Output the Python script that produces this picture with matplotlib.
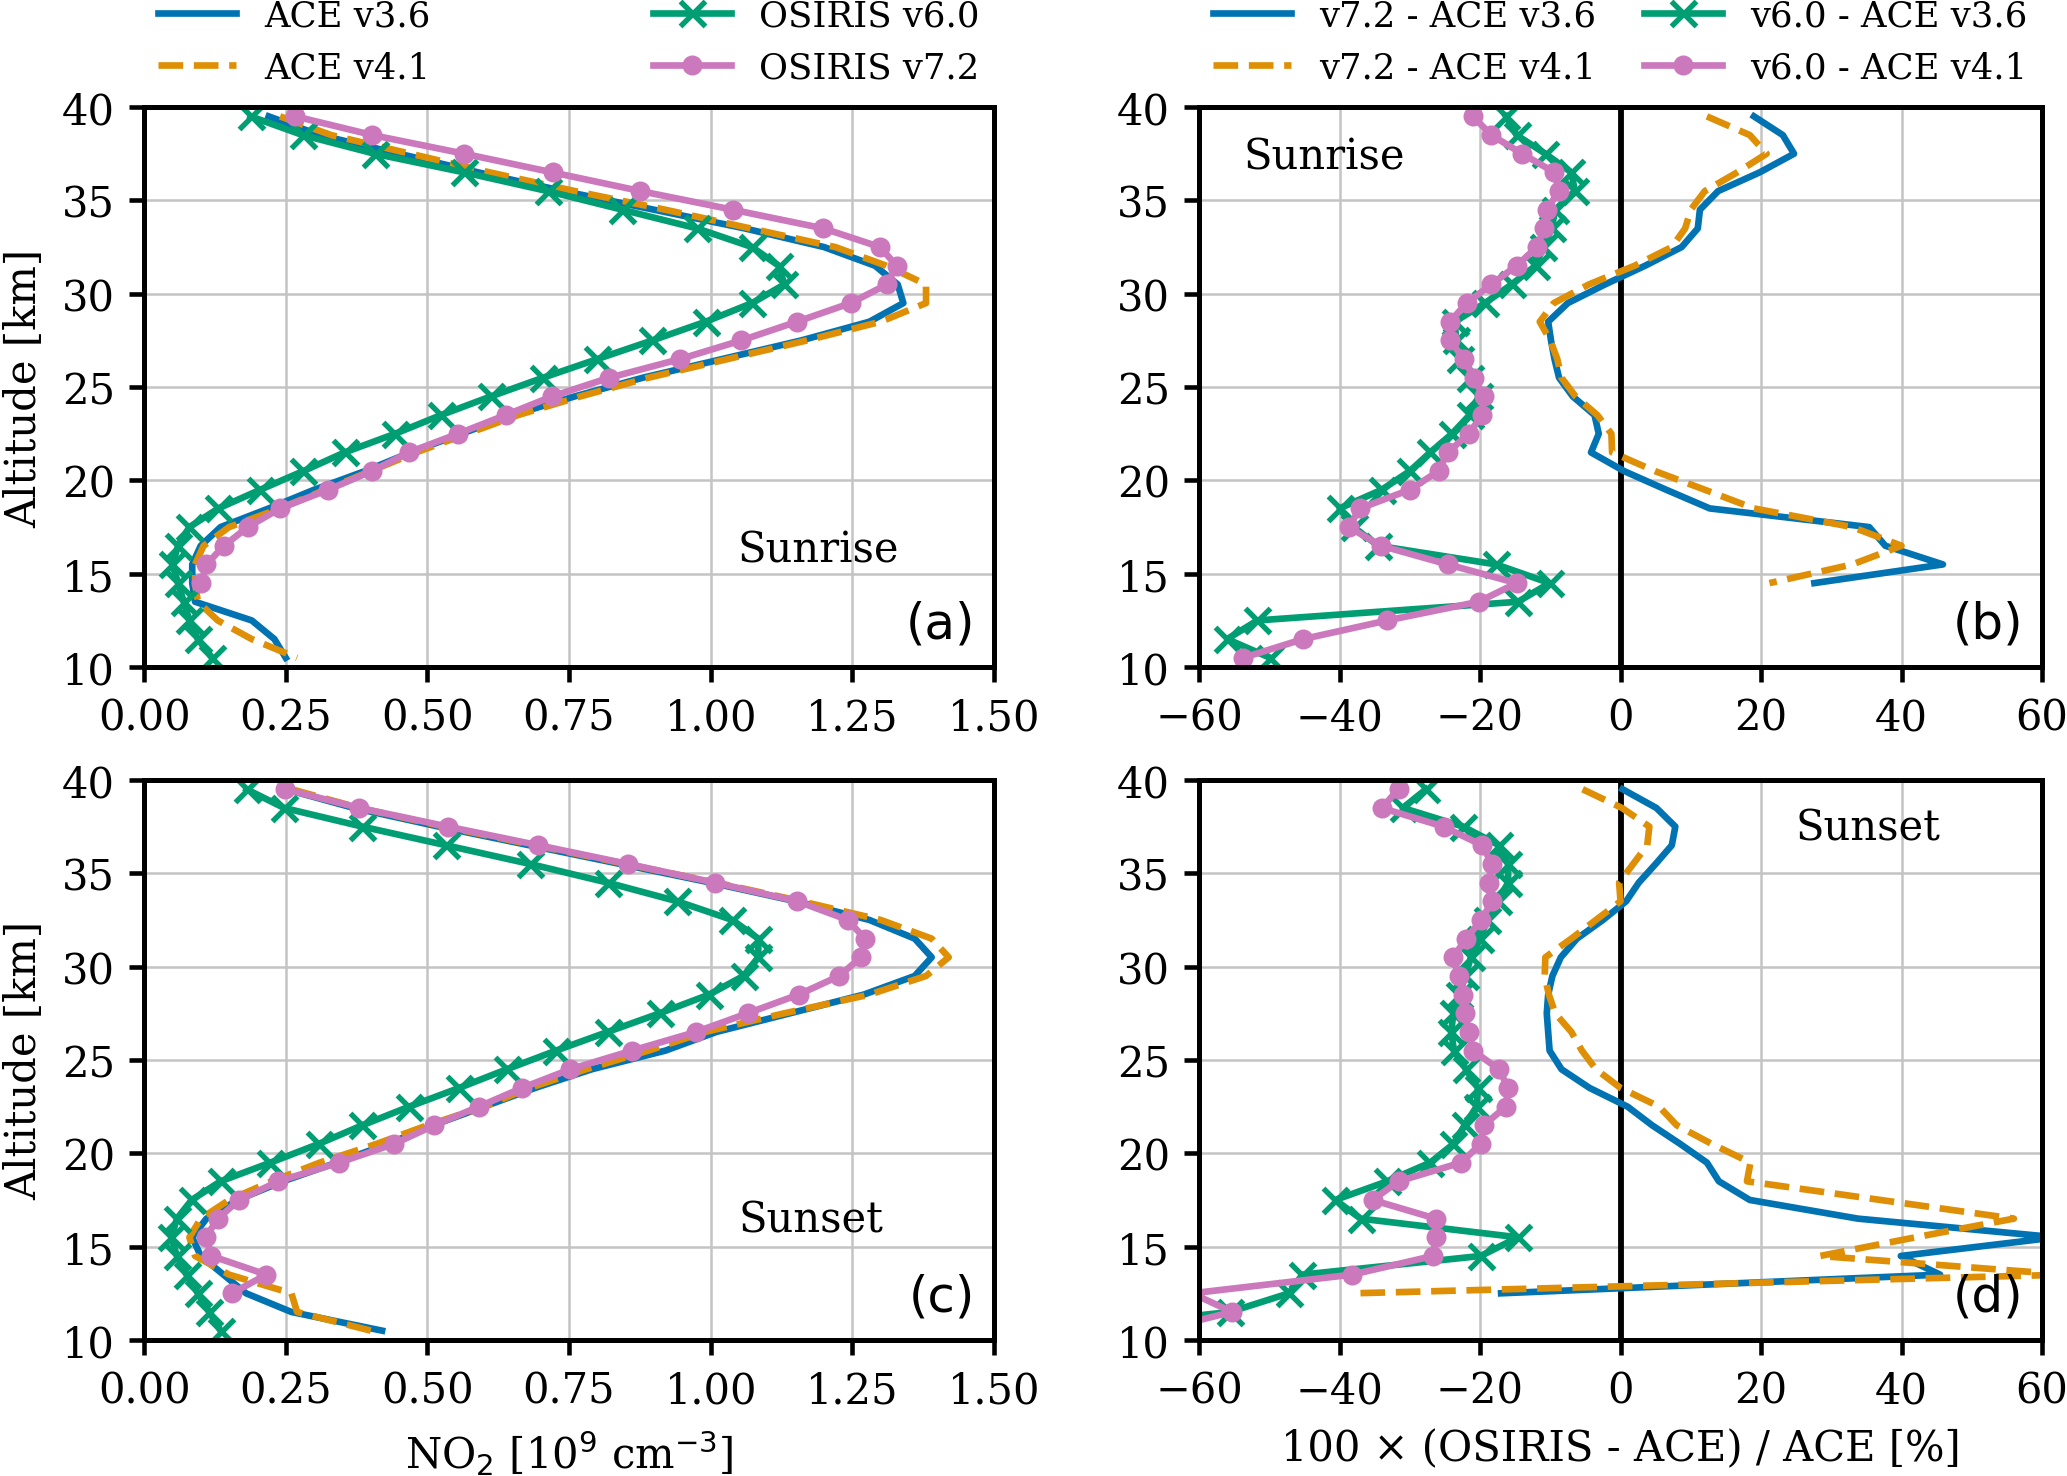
import matplotlib
matplotlib.use("Agg")
import matplotlib.pyplot as plt

# altitude grid [km]
alt = [39.5, 38.5, 37.5, 36.5, 35.5, 34.5, 33.5, 32.5, 31.5, 30.5,
       29.5, 28.5, 27.5, 26.5, 25.5, 24.5, 23.5, 22.5, 21.5, 20.5,
       19.5, 18.5, 17.5, 16.5, 15.5, 14.5, 13.5, 12.5, 11.5, 10.5]

# NO2 number density [1e9 cm^-3], sunrise
ace36_sr = [0.22, 0.31, 0.45, 0.59, 0.74, 0.90, 1.06, 1.20, 1.29, 1.33,
            1.34, 1.28, 1.16, 1.02, 0.88, 0.76, 0.65, 0.56, 0.47, 0.39,
            0.30, 0.22, 0.135, 0.10, 0.085, 0.085, 0.09, 0.19, 0.23, 0.25]
ace41_sr = [0.24, 0.33, 0.47, 0.61, 0.76, 0.92, 1.07, 1.22, 1.31, 1.38,
            1.38, 1.30, 1.17, 1.03, 0.89, 0.77, 0.66, 0.57, 0.48, 0.40,
            0.32, 0.24, 0.15, 0.105, 0.09, 0.09, 0.095, 0.13, 0.19, 0.27]
osi60_sr = [0.188, 0.280, 0.407, 0.565, 0.712, 0.844, 0.976, 1.073, 1.12, 1.13,
            1.073, 0.991, 0.897, 0.800, 0.704, 0.612, 0.524, 0.443, 0.354, 0.281,
            0.205, 0.131, 0.08, 0.06, 0.05, 0.06, 0.07, 0.08, 0.095, 0.12]
osi72_sr = [0.267, 0.403, 0.565, 0.721, 0.876, 1.039, 1.199, 1.299, 1.328, 1.311,
            1.247, 1.152, 1.054, 0.946, 0.821, 0.720, 0.638, 0.554, 0.467, 0.402,
            0.325, 0.240, 0.183, 0.141, 0.110, 0.101]

# sunset
ace36_ss = [0.25, 0.37, 0.52, 0.68, 0.84, 1.00, 1.15, 1.28, 1.36, 1.39,
            1.36, 1.27, 1.14, 1.01, 0.92, 0.79, 0.69, 0.60, 0.51, 0.43,
            0.34, 0.245, 0.165, 0.11, 0.085, 0.10, 0.14, 0.18, 0.26, 0.42]
ace41_ss = [0.26, 0.38, 0.53, 0.69, 0.85, 1.01, 1.16, 1.30, 1.39, 1.42,
            1.38, 1.28, 1.13, 0.99, 0.89, 0.78, 0.68, 0.60, 0.50, 0.41,
            0.31, 0.225, 0.15, 0.10, 0.08, 0.09, 0.15, 0.26, 0.27, 0.40]
osi60_ss = [0.181, 0.247, 0.385, 0.533, 0.681, 0.818, 0.941, 1.038, 1.084, 1.084,
            1.058, 0.997, 0.910, 0.818, 0.727, 0.640, 0.556, 0.468, 0.385, 0.308,
            0.223, 0.135, 0.084, 0.058, 0.048, 0.058, 0.075, 0.095, 0.115, 0.135]
osi72_ss = [0.249, 0.380, 0.536, 0.696, 0.854, 1.007, 1.153, 1.242, 1.272, 1.265,
            1.227, 1.155, 1.065, 0.974, 0.861, 0.752, 0.667, 0.591, 0.512, 0.441,
            0.344, 0.237, 0.168, 0.130, 0.109, 0.119, 0.216, 0.155]

# percent differences, sunrise
d72_36_sr = [19.0, 23.1, 24.7, 19.8, 13.9, 11.3, 11.0, 8.7, 3.5, -2.2,
             -7.5, -10.3, -9.9, -9.4, -8.75, -6.8, -3.7, -3.1, -4.2, 0.5,
             6.5, 12.7, 35.4, 37.7, 45.9, 27.6]
d72_41_sr = [12.3, 18.4, 20.8, 16.6, 12.0, 10.0, 9.2, 7.3, 2.0, -4.5,
             -9.5, -11.5, -10.0, -9.0, -8.4, -6.4, -3.3, -1.3, -1.2, 4.9,
             12.0, 19.0, 33.0, 40.0, 33.0, 21.2]
d60_36_sr = [-16.3, -14.8, -10.7, -7.0, -6.5, -9.3, -9.8, -11.0, -12.1, -15.5,
             -19.3, -23.6, -23.4, -22.8, -21.5, -20.2, -21.5, -24.0, -27.1, -30.0,
             -34.0, -40.0, -38.0, -34.5, -17.7, -10.1, -14.6, -51.7, -56.0, -49.9]
d60_41_sr = [-21.0, -18.4, -14.0, -9.4, -8.75, -10.5, -10.9, -11.9, -14.8, -18.4,
             -21.9, -24.3, -24.3, -22.3, -20.9, -19.5, -19.7, -21.6, -24.6, -25.9,
             -30.0, -37.1, -38.7, -34.1, -24.6, -14.8, -20.2, -33.2, -45.2, -53.7]

# percent differences, sunset
d72_36_ss = [0.3, 5.1, 7.8, 7.3, 5.0, 2.6, 0.8, -2.5, -6.2, -8.5,
             -9.7, -10.3, -10.5, -10.3, -10.1, -8.4, -4.4, 1.0, 4.5, 8.5,
             12.3, 14.0, 18.4, 33.8, 62.0, 39.9, 45.5, -17.0]
d72_41_ss = [-5.4, 0.2, 4.1, 3.8, 1.8, -0.2, 0.0, -3.5, -7.0, -10.7,
             -10.8, -10.2, -9.3, -7.0, -5.5, -3.5, 0.0, 5.5, 8.0, 13.0,
             18.5, 18.0, 37.0, 56.0, 42.0, 28.4, 63.5, -38.0]
d60_36_ss = [-27.7, -31.0, -22.4, -17.3, -16.0, -16.0, -17.5, -19.0, -20.0, -21.3,
             -22.1, -23.0, -23.8, -24.1, -23.7, -22.0, -20.3, -20.5, -22.2, -23.8,
             -27.1, -33.2, -40.6, -37.0, -14.6, -19.9, -45.3, -47.2, -55.6, -80.0]
d60_41_ss = [-31.6, -34.0, -25.2, -19.7, -18.3, -18.7, -18.3, -19.8, -22.0, -23.8,
             -23.0, -22.4, -22.2, -21.6, -21.0, -17.3, -16.0, -16.3, -19.5, -19.9,
             -22.7, -31.6, -35.3, -26.3, -26.3, -26.7, -38.2, -61.0, -55.3, -66.0]

plt.rcParams['font.family'] = 'DejaVu Serif'
plt.rcParams['font.size'] = 10
plt.rcParams['axes.linewidth'] = 1.2
plt.rcParams['xtick.major.width'] = 1.1
plt.rcParams['ytick.major.width'] = 1.1

blue = '#0173b2'
orange = '#de8f05'
green = '#029e73'
pink = '#cc78bc'
lw = 1.6

fig = plt.figure(figsize=(6.89, 4.923), dpi=300)
ax_a = fig.add_axes([0.0697, 0.5477, 0.4112, 0.3792])
ax_b = fig.add_axes([0.5801, 0.5477, 0.4078, 0.3792])
ax_c = fig.add_axes([0.0697, 0.0921, 0.4112, 0.3792])
ax_d = fig.add_axes([0.5801, 0.0921, 0.4078, 0.3792])


def draw_profiles(ax, a36, a41, o60, o72):
    ax.plot(a36, alt[:len(a36)], color=blue, lw=lw, label='ACE v3.6')
    ax.plot(a41, alt[:len(a41)], color=orange, lw=lw, ls='--', label='ACE v4.1')
    ax.plot(o60, alt[:len(o60)], color=green, lw=lw, marker='x', ms=6, mew=1.3,
            label='OSIRIS v6.0')
    ax.plot(o72, alt[:len(o72)], color=pink, lw=lw, marker='o', ms=3.8,
            label='OSIRIS v7.2')
    ax.set_xlim(0, 1.5)
    ax.set_xticks([0, 0.25, 0.5, 0.75, 1.0, 1.25, 1.5])
    ax.set_xticklabels(['0.00', '0.25', '0.50', '0.75', '1.00', '1.25', '1.50'])


def draw_diffs(ax, b36, b41, g36, p41):
    ax.axvline(0, color='k', lw=1.4, zorder=1.5)
    ax.plot(b36, alt[:len(b36)], color=blue, lw=lw, label='v7.2 - ACE v3.6')
    ax.plot(b41, alt[:len(b41)], color=orange, lw=lw, ls='--', label='v7.2 - ACE v4.1')
    ax.plot(g36, alt[:len(g36)], color=green, lw=lw, marker='x', ms=6, mew=1.3,
            label='v6.0 - ACE v3.6')
    ax.plot(p41, alt[:len(p41)], color=pink, lw=lw, marker='o', ms=3.8,
            label='v6.0 - ACE v4.1')
    ax.set_xlim(-60, 60)
    ax.set_xticks([-60, -40, -20, 0, 20, 40, 60])


draw_profiles(ax_a, ace36_sr, ace41_sr, osi60_sr, osi72_sr)
draw_profiles(ax_c, ace36_ss, ace41_ss, osi60_ss, osi72_ss)
draw_diffs(ax_b, d72_36_sr, d72_41_sr, d60_36_sr, d60_41_sr)
draw_diffs(ax_d, d72_36_ss, d72_41_ss, d60_36_ss, d60_41_ss)

for ax, tag in zip([ax_a, ax_b, ax_c, ax_d], ['(a)', '(b)', '(c)', '(d)']):
    ax.set_ylim(10, 40)
    ax.set_yticks([10, 15, 20, 25, 30, 35, 40])
    ax.grid(True, color='#c4c4c4', lw=0.6)
    ax.set_axisbelow(True)
    ax.text(0.978, 0.035, tag, transform=ax.transAxes, ha='right', va='bottom',
            fontsize=12, family='DejaVu Sans')

ax_a.set_ylabel('Altitude [km]')
ax_c.set_ylabel('Altitude [km]')
ax_c.set_xlabel(r'NO$_2$ [10$^9$ cm$^{-3}$]')
ax_d.set_xlabel('100 \u00d7 (OSIRIS - ACE) / ACE [%]')

ax_a.text(0.698, 0.189, 'Sunrise', transform=ax_a.transAxes)
ax_c.text(0.699, 0.193, 'Sunset', transform=ax_c.transAxes)
ax_b.text(0.053, 0.891, 'Sunrise', transform=ax_b.transAxes)
ax_d.text(0.708, 0.893, 'Sunset', transform=ax_d.transAxes)

for ax in [ax_a, ax_b]:
    ax.legend(loc='lower left', bbox_to_anchor=(0, 1.015, 1, 0.1), mode='expand',
              ncol=2, frameon=False, fontsize=8.5, labelspacing=0.5,
              borderaxespad=0, handlelength=2.2)

fig.savefig('out.png', dpi=300)
